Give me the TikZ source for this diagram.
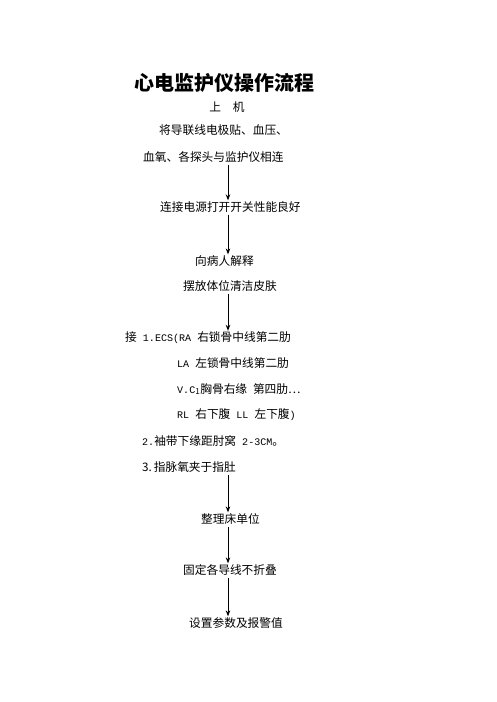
\documentclass[tikz,border=0pt]{standalone}
\usepackage{fontspec}
\setmainfont{Noto Sans CJK SC}
\setmonofont[Scale=0.86]{Liberation Mono}
\usetikzlibrary{arrows.meta}
\tikzset{flowtext/.style={anchor=west,inner sep=0pt,font=\fontsize{11.7}{14}\selectfont},headline/.style={inner sep=0pt,font=\fontsize{20}{24}\selectfont\bfseries},flow/.style={-{Stealth[length=6pt,width=4.5pt]},line width=1pt,shorten <=2pt,shorten >=1pt}}

\begin{document}
\begin{tikzpicture}[x=1pt,y=-1pt]
 \useasboundingbox (0,0) rectangle (496,702);
 \node[headline] (title) at (224,83) {心电监护仪操作流程};
 \node[flowtext,anchor=center] (start) at (227,107) {上\hspace{1em}机};
 \node[flowtext] (lead1) at (159,130) {将导联线电极贴、血压、};
 \node[flowtext] (lead2) at (143,157) {血氧、各探头与监护仪相连};
 \node[flowtext] (power) at (160,207) {连接电源打开开关性能良好};
 \node[flowtext] (explain) at (195,261) {向病人解释};
 \node[flowtext] (skin) at (183,286) {摆放体位清洁皮肤};

 % electrode positions, cuff and clip
 \node[flowtext] (ecg1) at (125,338) {接\texttt{ 1.ECS(RA }右锁骨中线第二肋};
 \node[flowtext] (ecg2) at (177,363) {\texttt{LA }左锁骨中线第二肋};
 \node[flowtext] (ecg3) at (177,389) {\texttt{V.C}\textsubscript{1}胸骨右缘\hspace{0.5em}第四肋…};
 \node[flowtext] (ecg4) at (177,415) {\texttt{RL }右下腹\texttt{ LL }左下腹\texttt{)}};
 \node[flowtext] (cuff) at (142,441) {\texttt{2.}袖带下缘距肘窝\texttt{ 2-3CM}。};
 \node[flowtext] (spo2) at (142,467) {3.\,指脉氧夹于指肚};

 \node[flowtext] (bed) at (201,519) {整理床单位};
 \node[flowtext] (fix) at (183,570) {固定各导线不折叠};
 \node[flowtext] (alarm) at (189,623) {设置参数及报警值};

 \coordinate (spine) at (228,0);
 \foreach \src/\dst in {lead2/power,power/explain,skin/ecg1,spo2/bed,bed/fix,fix/alarm} {\draw[flow] (\src.south -| spine)--(\dst.north -| spine);}
\end{tikzpicture}
\end{document}
